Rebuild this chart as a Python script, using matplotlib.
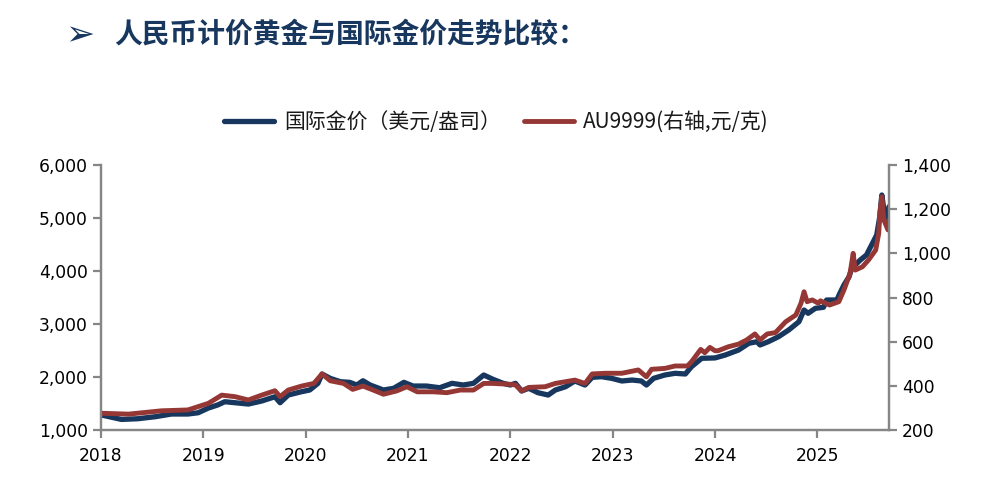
import matplotlib
matplotlib.use("Agg")
import matplotlib.pyplot as plt
from matplotlib.ticker import FuncFormatter, FixedLocator

plt.rcParams['font.family'] = ['Noto Sans CJK SC', 'DejaVu Sans']

# International gold price (USD/oz), x in fractional years as laid out on the chart
intl_x = [2018.00, 2018.20, 2018.36, 2018.53, 2018.69, 2018.85, 2018.95, 2019.05, 2019.14, 2019.21,
          2019.31, 2019.44, 2019.57, 2019.70, 2019.75, 2019.83, 2019.96, 2020.04, 2020.12, 2020.16,
          2020.24, 2020.34, 2020.43, 2020.50, 2020.56, 2020.63, 2020.76, 2020.86, 2020.96, 2021.05,
          2021.18, 2021.31, 2021.43, 2021.54, 2021.64, 2021.74, 2021.83, 2021.93, 2022.00, 2022.05,
          2022.11, 2022.18, 2022.27, 2022.37, 2022.44, 2022.54, 2022.63, 2022.73, 2022.80, 2022.89,
          2022.99, 2023.09, 2023.19, 2023.28, 2023.33, 2023.40, 2023.51, 2023.61, 2023.71, 2023.77,
          2023.87, 2024.00, 2024.10, 2024.23, 2024.33, 2024.41, 2024.44, 2024.52, 2024.62, 2024.72,
          2024.82, 2024.87, 2024.91, 2024.98, 2025.06, 2025.09, 2025.19, 2025.22, 2025.26, 2025.31,
          2025.34, 2025.37, 2025.42, 2025.48, 2025.53, 2025.58, 2025.61, 2025.63, 2025.66, 2025.69,
          2025.70]
intl_usd = [1285, 1200, 1213, 1251, 1302, 1302, 1326, 1415, 1472, 1534,
            1515, 1490, 1547, 1628, 1515, 1660, 1723, 1755, 1881, 2057,
            1975, 1911, 1900, 1849, 1930, 1849, 1755, 1787, 1900, 1830,
            1830, 1798, 1881, 1849, 1881, 2038, 1957, 1881, 1849, 1881,
            1736, 1787, 1704, 1660, 1755, 1817, 1925, 1849, 1994, 2006,
            1975, 1925, 1943, 1925, 1849, 1975, 2038, 2070, 2057, 2194,
            2353, 2360, 2415, 2509, 2636, 2666, 2604, 2666, 2760, 2887,
            3043, 3264, 3202, 3296, 3315, 3453, 3453, 3579, 3736, 3892,
            4081, 4113, 4208, 4302, 4491, 4679, 5025, 5434, 5025, 4900,
            5213]

# AU9999 (CNY/g, right axis)
au_x = [2018.00, 2018.27, 2018.59, 2018.85, 2019.05, 2019.18, 2019.31, 2019.44, 2019.57, 2019.70,
        2019.75, 2019.83, 2019.96, 2020.08, 2020.16, 2020.24, 2020.37, 2020.46, 2020.56, 2020.66,
        2020.76, 2020.89, 2020.99, 2021.09, 2021.25, 2021.38, 2021.51, 2021.64, 2021.74, 2021.83,
        2022.00, 2022.05, 2022.11, 2022.18, 2022.34, 2022.44, 2022.63, 2022.73, 2022.80, 2022.93,
        2023.09, 2023.25, 2023.33, 2023.38, 2023.51, 2023.61, 2023.73, 2023.77, 2023.86, 2023.90,
        2023.95, 2024.00, 2024.03, 2024.13, 2024.23, 2024.31, 2024.39, 2024.44, 2024.51, 2024.59,
        2024.69, 2024.79, 2024.84, 2024.87, 2024.90, 2024.95, 2025.01, 2025.03, 2025.12, 2025.21,
        2025.26, 2025.32, 2025.35, 2025.37, 2025.44, 2025.50, 2025.57, 2025.60, 2025.61, 2025.63,
        2025.65, 2025.69, 2025.70]
au_cny = [276, 272, 287, 291, 321, 358, 351, 336, 358, 378,
          351, 381, 399, 411, 454, 423, 411, 384, 399, 381,
          362, 377, 396, 373, 373, 369, 381, 381, 411, 411,
          407, 404, 377, 393, 396, 411, 426, 411, 454, 457,
          457, 472, 441, 475, 479, 490, 490, 509, 565, 550,
          574, 559, 559, 577, 589, 608, 635, 608, 635, 641,
          690, 721, 774, 826, 781, 789, 774, 785, 766, 781,
          834, 910, 1000, 924, 939, 970, 1015, 1091, 1181, 1256,
          1151, 1106, 1151]

years = [2018, 2019, 2020, 2021, 2022, 2023, 2024, 2025]

navy = '#17375E'
red = '#953735'
grey = '#868686'

fig = plt.figure(figsize=(9.87, 4.9), dpi=100)
ax = fig.add_axes([0.1023, 0.1224, 0.7984, 0.5409])
ax2 = ax.twinx()

l1, = ax.plot(intl_x, intl_usd, color=navy, lw=3.8, solid_joinstyle='round',
              solid_capstyle='round', label='国际金价（美元/盎司）')
l2, = ax2.plot(au_x, au_cny, color=red, lw=3.5, solid_joinstyle='round',
               solid_capstyle='round', label='AU9999(右轴,元/克)')

ax.set_xlim(2018, 2025.70)
ax.set_ylim(1000, 6000)
ax2.set_ylim(200, 1400)
ax.xaxis.set_major_locator(FixedLocator(years))
ax.set_xticklabels([str(y) for y in years])
ax.yaxis.set_major_locator(FixedLocator([1000, 2000, 3000, 4000, 5000, 6000]))
ax2.yaxis.set_major_locator(FixedLocator([200, 400, 600, 800, 1000, 1200, 1400]))
fmt = FuncFormatter(lambda v, p: f'{int(v):,}')
ax.yaxis.set_major_formatter(fmt)
ax2.yaxis.set_major_formatter(fmt)

for a in (ax, ax2):
    for s in a.spines.values():
        s.set_color(grey)
        s.set_linewidth(1.6)
    a.spines['top'].set_visible(False)
    a.tick_params(axis='both', colors=grey, width=1.6, length=6, direction='out',
                  labelsize=12.3, labelcolor='black')
    for lab in a.get_xticklabels() + a.get_yticklabels():
        lab.set_family('DejaVu Sans')
ax.tick_params(axis='x', pad=6)

leg = fig.legend(handles=[l1, l2], loc='center', bbox_to_anchor=(0.503, 0.751), ncol=2,
                 frameon=False, fontsize=15, handlelength=2.4, columnspacing=1.1,
                 handletextpad=0.45)
for t in leg.get_texts():
    t.set_color('#1a1a1a')

fig.text(0.066, 0.928, '➢', fontsize=25, color=navy, family='DejaVu Sans', va='center')
fig.text(0.116, 0.928, '人民币计价黄金与国际金价走势比较：', fontsize=20, color=navy,
         fontweight='bold', va='center')

fig.savefig('out.png', dpi=100)
